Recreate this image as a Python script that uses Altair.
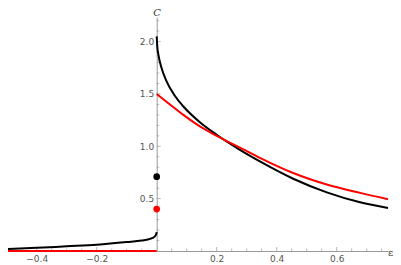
import altair as alt
import pandas as pd

# ---- data ----
black_right_x = [0.0, 0.002, 0.006, 0.015, 0.033, 0.061, 0.089, 0.144, 0.2, 0.272, 0.344, 0.455, 0.567, 0.678, 0.771]
black_right_y = [2.05, 1.95, 1.87, 1.76, 1.62, 1.48, 1.38, 1.23, 1.11, 0.975, 0.855, 0.69, 0.56, 0.465, 0.41]

red_right_x = [0.0, 0.044, 0.089, 0.144, 0.2, 0.289, 0.344, 0.455, 0.567, 0.678, 0.771]
red_right_y = [1.50, 1.40, 1.30, 1.19, 1.10, 0.97, 0.89, 0.745, 0.635, 0.555, 0.495]

black_left_x = [-0.4956, -0.4, -0.3, -0.2, -0.1, -0.05, -0.02, -0.008, -0.002, 0.0]
black_left_y = [0.018, 0.03, 0.045, 0.06, 0.085, 0.1, 0.118, 0.135, 0.158, 0.18]

red_left_x = [-0.4956, 0.0]
red_left_y = [0.0, 0.0]

dot_x = [0.0, 0.0]
dot_y = [0.71, 0.40]
dot_c = ["black", "red"]

x_labels = [-0.4, -0.2, 0.2, 0.4, 0.6]
y_labels = [0.5, 1.0, 1.5, 2.0]
x_minor = [-0.45, -0.35, -0.3, -0.25, -0.15, -0.1, -0.05, 0.05, 0.1, 0.15, 0.25, 0.3, 0.35, 0.45, 0.5, 0.55, 0.65, 0.7, 0.75]
y_minor = [0.1, 0.2, 0.3, 0.4, 0.6, 0.7, 0.8, 0.9, 1.1, 1.2, 1.3, 1.4, 1.6, 1.7, 1.8, 1.9, 2.1, 2.2]

XMIN, XMAX = -0.4956, 0.771
YMIN, YMAX = 0.0, 2.235

AX = "#9a9a9a"
LAB = "#555555"

def seg(xs, ys, name):
    return pd.DataFrame({"x": xs, "y": ys, "s": name})

xs = alt.Scale(domain=[XMIN, XMAX], nice=False, zero=False)
ys = alt.Scale(domain=[YMIN, YMAX], nice=False, zero=False)

xaxis = alt.Axis(values=x_labels, format=".1f", grid=False, ticks=False,
                 domainColor=AX, labelColor=LAB, labelFontSize=9, labelFont="DejaVu Sans",
                 labelPadding=3, labelFlush=False, labelOverlap=False,
                 title="ε", titleFont="DejaVu Serif", titleFontSize=10, titleFontWeight="normal",
                 titleColor="#333333", titleX=382, titleY=1, titleAlign="center",
                 titleBaseline="middle")
yaxis = alt.Axis(values=y_labels, format=".1f", grid=False, ticks=False,
                 domainColor=AX, labelColor=LAB, labelFontSize=9, labelFont="DejaVu Sans",
                 labelPadding=3, labelOverlap=False, offset=-148.7,
                 title="C", titleFont="DejaVu Serif", titleFontStyle="italic", titleFontSize=10,
                 titleFontWeight="normal", titleColor="#333333", titleAngle=0,
                 titleX=0, titleY=-2, titleAlign="center", titleBaseline="alphabetic")

X = alt.X("x:Q", scale=xs, axis=xaxis)
Y = alt.Y("y:Q", scale=ys, axis=yaxis)

def line(df, color):
    return alt.Chart(df).mark_line(color=color, strokeWidth=2, interpolate="monotone").encode(x=X, y=Y)

# ticks (Mathematica style: pointing into the plot)
ytick_major = alt.Chart(pd.DataFrame({"x": [0.0] * len(y_labels), "y": y_labels})).mark_tick(
    orient="horizontal", size=4, thickness=1, color=AX, xOffset=2).encode(x=X, y=Y)
ytick_minor = alt.Chart(pd.DataFrame({"x": [0.0] * len(y_minor), "y": y_minor})).mark_tick(
    orient="horizontal", size=2.5, thickness=1, color=AX, xOffset=1.25).encode(x=X, y=Y)
xtick_major = alt.Chart(pd.DataFrame({"x": x_labels, "y": [0.0] * len(x_labels)})).mark_tick(
    orient="vertical", size=4, thickness=1, color=AX, yOffset=-2).encode(x=X, y=Y)
xtick_minor = alt.Chart(pd.DataFrame({"x": x_minor, "y": [0.0] * len(x_minor)})).mark_tick(
    orient="vertical", size=2.5, thickness=1, color=AX, yOffset=-1.25).encode(x=X, y=Y)

dots = alt.Chart(pd.DataFrame({"x": dot_x, "y": dot_y, "c": dot_c})).mark_circle(size=45, opacity=1).encode(
    x=X, y=Y,
    color=alt.Color("c:N", scale=alt.Scale(domain=["black", "red"], range=["#000000", "#ff0000"]), legend=None))

chart = alt.layer(
    ytick_major, ytick_minor, xtick_major, xtick_minor,
    line(seg(black_right_x, black_right_y, "br"), "#000000"),
    line(seg(black_left_x, black_left_y, "bl"), "#000000"),
    line(seg(red_right_x, red_right_y, "rr"), "#ff0000"),
    line(seg(red_left_x, red_left_y, "rl"), "#ff0000"),
    dots,
).properties(
    width=380, height=234,
    autosize=alt.AutoSizeParams(type="none"),
    padding={"left": 0, "top": 9, "right": 5, "bottom": 14},
).configure_view(stroke=None)

chart.save("out.html", embed_options={"renderer": "svg", "actions": False})
